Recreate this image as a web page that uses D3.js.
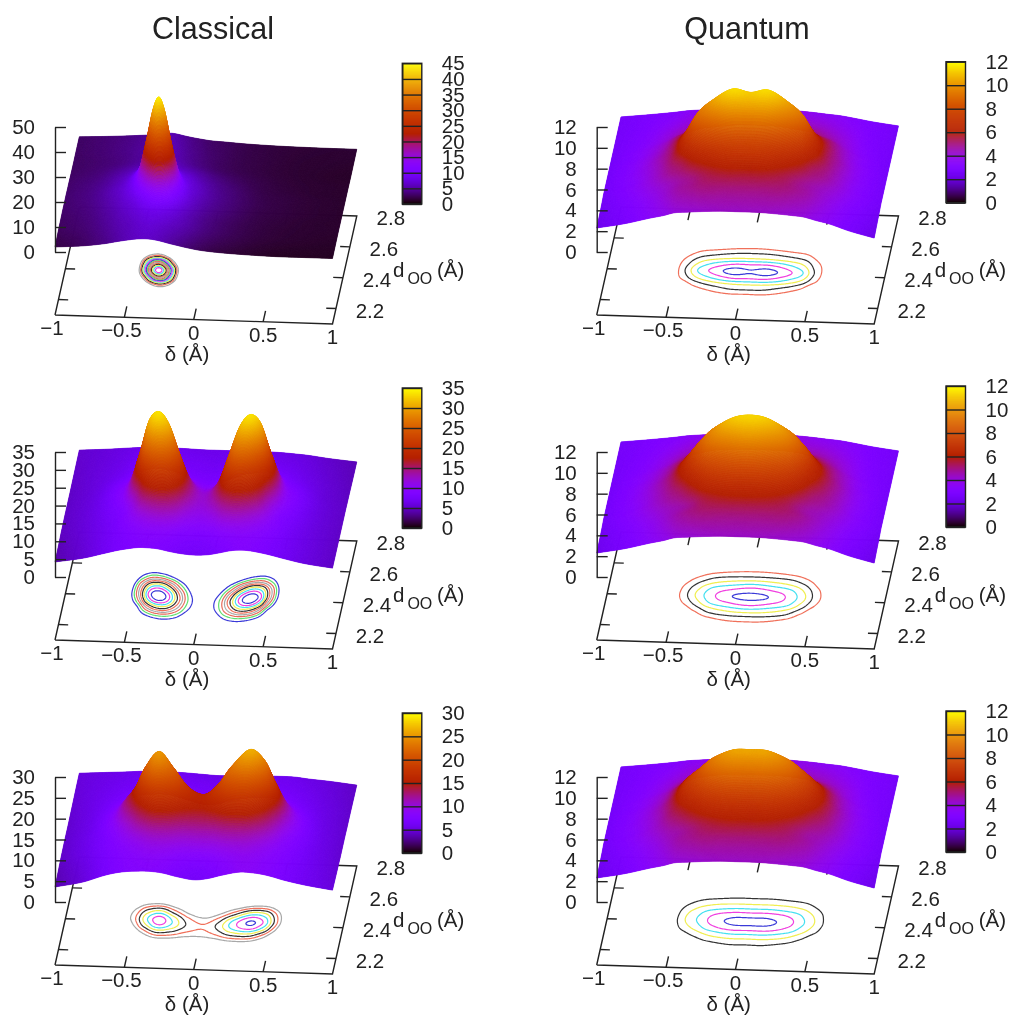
<!DOCTYPE html>
<html>
<head>
<meta charset="utf-8">
<script src="https://cdn.jsdelivr.net/npm/d3@7"></script>
<style>
  html, body { margin: 0; padding: 0; background: #fff; }
  svg { display: block; font-family: "Liberation Sans", Arial, sans-serif; fill: #222; filter: blur(0.35px); }
  .tick line, .domain { stroke: #222; stroke-width: 1.4; }
</style>
</head>
<body>
<script>
// heights on a coarse grid, rows go with dOO, columns with delta
var classical1X = [-1,-.8,-.65,-.55,-.48,-.42,-.37,-.33,-.29,-.24,-.18,-.12,-.05,.05,.2,.4,.6,.8,1];
var classical1Y = [2.1,2.2,2.27,2.32,2.36,2.41,2.46,2.5,2.55,2.62,2.7,2.8];
var classical1Z = [
  [2,2.8,3.9,5,5.7,6.2,6.4,6.4,6.2,5.7,4.9,4.2,3.4,2.5,1.8,1.3,1,1,1],
  [2.7,3.4,4.6,5.6,6.2,6.8,7.2,7.4,7.2,6.8,6.2,5.6,4.8,3.7,2.7,1.9,1.5,1.3,1.2],
  [2.9,3.7,5,6.2,7,8,9,9.6,9.6,8.9,7.5,6.3,5.2,4,2.9,2,1.6,1.4,1.3],
  [3.1,3.9,5.4,6.8,8,10.6,14,16.7,17.3,14.8,10,7.4,5.8,4.4,3.2,2.1,1.7,1.4,1.3],
  [3.1,4.1,5.7,7.4,9.9,16.4,25.6,31.3,30.9,22.7,12.4,8.2,6.2,4.7,3.4,2.2,1.8,1.5,1.3],
  [3.2,4.2,6,8,12.5,25.8,39,44,39,25.8,12.6,8.2,6.5,4.9,3.5,2.3,1.8,1.5,1.3],
  [3.1,4.1,5.7,7.8,12.4,22.7,31,31.3,25.6,16.3,9.6,7.5,6.2,4.7,3.4,2.2,1.8,1.5,1.3],
  [3.1,3.9,5.4,7,9.9,14.6,17.2,16.6,13.9,10.3,7.8,6.8,5.6,4.4,3.2,2.1,1.7,1.4,1.3],
  [2.9,3.6,4.8,5.8,6.8,8,8.6,8.6,8,7,6.2,5.6,4.8,3.8,2.8,2,1.6,1.4,1.3],
  [2.8,3.3,3.9,4.6,5,5.7,6.1,6.3,6,5.5,4.8,4.2,3.6,2.9,2.3,1.8,1.5,1.3,1.2],
  [2.9,3.4,4,4.5,4.9,5.4,5.8,5.9,5.6,5.1,4.4,3.9,3.3,2.8,2.2,1.8,1.5,1.4,1.3],
  [2.9,3.4,3.9,4.3,4.6,5,5.4,5.5,5.2,4.6,4,3.5,3,2.7,2.2,1.8,1.6,1.5,1.5]
];

var classical2X = [-1,-.8,-.65,-.55,-.47,-.4,-.33,-.26,-.18,-.1,0,.1,.18,.26,.33,.4,.47,.55,.65,.8,1];
var classical2Y = [2.1,2.2,2.27,2.33,2.38,2.42,2.47,2.53,2.6,2.7,2.8];
var classical2Z = [
  [4.2,5.5,7,8,8.6,9,9,8.8,8.2,7.7,7.4,7.6,8.2,8.9,9.2,9.1,8.7,8.1,7.2,6,5],
  [4.5,5.8,7.2,8.3,9.1,9.7,10.1,10.2,9.8,9,8.7,9,9.8,10.2,10.2,9.8,9.2,8.3,7.3,6.1,5],
  [4.8,6,7.4,9,10.7,12.9,14.7,15.4,14.2,11.7,10.7,11.7,14.2,15.4,14.7,12.9,10.7,9,7.4,6.1,5],
  [4.9,6.1,7.8,9.5,13.5,20.2,24.3,24.6,20.1,14.4,12,14.4,20.1,24.6,24.3,20.2,13.5,9.5,7.8,6.1,5],
  [5,6.2,8.2,11,18.5,28.1,32.3,30.5,22.9,15.1,12.1,15.1,22.9,30.5,32.3,28.1,18.5,11,8.2,6.2,5],
  [5,6.2,8.5,11.8,21,30.8,33.3,30,21.5,14.1,11.4,14.1,21.5,30,33.3,30.8,21,11.8,8.5,6.2,5],
  [5,6.2,8.6,11.5,20,26.9,27.7,23.4,16.6,11.8,10.1,11.8,16.6,23.4,27.7,26.9,20,11.5,8.6,6.2,5],
  [5,6.1,8,9.8,14.5,17.1,16.4,14,11.1,9.5,8.8,9.5,11.1,14,16.4,17.1,14.5,9.8,8,6,4.9],
  [5.1,6,7.1,8.2,9.1,9.8,9.4,9,8.4,8,7.8,8,8.4,9,9.4,9.8,9,8,7,5.8,4.8],
  [5.2,5.9,6.6,7.3,7.5,7.5,7.4,7.4,7.3,7.2,7,7.2,7.3,7.4,7.4,7.3,7.1,6.8,6.3,5.5,4.6],
  [5.3,5.8,6.3,6.6,6.7,6.7,6.7,6.7,6.6,6.5,6.5,6.5,6.5,6.6,6.6,6.5,6.4,6.2,5.9,5.2,4.5]
];

var classical3X = [-1,-.8,-.65,-.57,-.5,-.43,-.33,-.23,-.12,0,.1,.2,.33,.43,.5,.57,.65,.8,1];
var classical3Y = [2.1,2.2,2.27,2.33,2.38,2.42,2.47,2.53,2.6,2.7,2.8];
var classical3Z = [
  [3.6,5,6.7,7.4,7.8,8,8.1,7.8,7,6.4,6.8,7.7,8.6,8.5,8.2,7.7,7,6,5],
  [4,5.4,7,7.7,8.2,8.6,9,8.8,8.2,7.9,8.2,8.8,9.3,8.9,8.4,7.9,7.2,6,4.8],
  [4.3,5.8,7.4,8.3,9.2,10.2,11.6,11.7,11.1,11.2,11.4,12.1,12,10.7,9.5,8.4,7.5,6,4.7],
  [4.4,5.9,7.8,9.5,11.5,14.4,17.9,17.3,15.5,15,16.2,18.3,18.7,15.6,12.3,9.5,7.9,6,4.6],
  [4.5,6,8.5,11.3,14.5,19.2,23.9,21.6,17.7,16.2,18.5,22.5,25,21.4,16.1,11.3,8.5,6,4.6],
  [4.5,6,8.9,12.4,15.9,21,25,21.4,16.7,14.8,17.3,22,26.2,23.5,17.9,12.4,8.9,6,4.6],
  [4.5,6,8.7,11.9,14.7,18.3,20.2,16.7,13,11.4,13.3,16.8,21.2,20.3,16.4,11.9,8.7,5.9,4.6],
  [4.6,5.9,7.8,9.4,10.8,12.1,12.4,10.8,9.3,8.6,9.3,10.7,12.8,12.9,11.5,9.3,7.7,5.7,4.5],
  [4.7,5.8,6.8,7.4,8,8.1,8.2,7.8,7.4,7,7.3,7.7,8.1,8.1,7.8,7.3,6.6,5.5,4.5],
  [4.9,5.6,6.1,6.3,6.6,6.7,6.7,6.6,6.4,6.2,6.3,6.4,6.5,6.5,6.4,6.2,5.9,5.2,4.4],
  [5,5.4,5.7,5.9,6,6,6,5.9,5.7,5.5,5.6,5.7,5.8,5.8,5.8,5.7,5.4,5,4.3]
];

var quantumX = [-1,-.8,-.62,-.52,-.44,-.35,-.25,-.1,.03,.16,.31,.41,.49,.58,.68,.82,1];
var quantumY = [2.1,2.2,2.26,2.295,2.325,2.365,2.41,2.455,2.495,2.525,2.56,2.62,2.7,2.8];
var quantum1Z = [
  [2.3,2.8,3.4,3.7,4,4.1,4.2,4.3,4.3,4.3,4.2,4.1,4,3.7,3.4,2.8,2.2],
  [2.4,3,3.7,4.2,4.6,4.8,5,5,5,5,5,4.8,4.6,4.2,3.7,3,2.4],
  [2.5,3.2,4,4.4,4.7,5,5.5,5.9,5.9,5.9,5.5,5,4.7,4.4,4,3.2,2.5],
  [2.6,3.3,4.2,4.8,5.1,5.7,6.3,7,7.1,7,6.3,5.7,5.1,4.8,4.2,3.3,2.6],
  [2.6,3.3,4.3,5,5.5,6.5,7.3,7.9,8,7.9,7.3,6.5,5.5,5,4.3,3.3,2.6],
  [2.6,3.4,4.4,5.3,6.5,8,9,10,10,10,9,8,6.5,5.3,4.4,3.4,2.6],
  [2.6,3.4,4.5,5.4,7,9,10.2,11.4,11.1,11.4,10.2,9,7,5.4,4.5,3.4,2.6],
  [2.6,3.4,4.4,5.4,6.6,8.1,9.1,10,10,10,9.1,8.1,6.6,5.4,4.4,3.4,2.6],
  [2.6,3.3,4.3,5.2,6,7,7.5,7.9,8,7.9,7.5,7,6,5.2,4.3,3.3,2.6],
  [2.6,3.3,4.2,5,5.5,6.2,6.6,7,7.1,7,6.6,6.2,5.5,5,4.2,3.3,2.6],
  [2.6,3.2,4,4.6,5,5.4,5.6,5.9,6,5.9,5.6,5.4,5,4.6,4,3.2,2.6],
  [2.6,3.1,3.8,4.2,4.5,4.7,4.9,5,5,5,4.9,4.7,4.5,4.2,3.8,3.1,2.6],
  [2.6,3,3.5,3.8,4,4.1,4.2,4.3,4.3,4.3,4.2,4.1,4,3.8,3.5,3,2.6],
  [2.6,2.9,3.2,3.4,3.5,3.6,3.7,3.8,3.8,3.8,3.7,3.6,3.5,3.4,3.2,2.9,2.6]
];
var quantum2Z = [
  [2.3,2.8,3.4,3.7,4,4.1,4.2,4.3,4.3,4.3,4.2,4.1,4,3.7,3.4,2.8,2.2],
  [2.4,3,3.7,4.2,4.6,4.9,5.1,5.1,5.1,5.1,5.1,4.9,4.6,4.2,3.7,3,2.4],
  [2.5,3.2,4,4.4,4.6,5,5.7,6.2,6.3,6.2,5.7,5,4.6,4.4,4,3.2,2.5],
  [2.6,3.3,4.2,4.7,5,5.7,6.8,7.4,7.5,7.4,6.8,5.7,5,4.7,4.2,3.3,2.6],
  [2.6,3.3,4.3,4.9,5.4,6.5,7.7,8.5,8.8,8.5,7.7,6.5,5.4,4.9,4.3,3.3,2.6],
  [2.6,3.4,4.4,5.2,6.2,7.6,9.1,10,10.4,10,9.1,7.6,6.2,5.2,4.4,3.4,2.6],
  [2.6,3.4,4.5,5.4,6.7,8.3,9.7,11,11.3,11,9.7,8.3,6.7,5.4,4.5,3.4,2.6],
  [2.6,3.4,4.4,5.3,6.5,7.9,9.2,10,10.4,10,9.2,7.9,6.5,5.3,4.4,3.4,2.6],
  [2.6,3.3,4.3,5.1,5.9,7,7.9,8.5,8.8,8.5,7.9,7,5.9,5.1,4.3,3.3,2.6],
  [2.6,3.3,4.2,4.9,5.5,6.2,7,7.4,7.5,7.4,7,6.2,5.5,4.9,4.2,3.3,2.6],
  [2.6,3.2,4,4.6,5.1,5.5,5.9,6.2,6.3,6.2,5.9,5.5,5.1,4.6,4,3.2,2.6],
  [2.6,3.1,3.8,4.2,4.5,4.7,4.9,5,5,5,4.9,4.7,4.5,4.2,3.8,3.1,2.6],
  [2.6,3,3.5,3.8,4,4.1,4.2,4.3,4.3,4.3,4.2,4.1,4,3.8,3.5,3,2.6],
  [2.6,2.9,3.2,3.4,3.5,3.6,3.7,3.8,3.8,3.8,3.7,3.6,3.5,3.4,3.2,2.9,2.6]
];
var quantum3Z = [
  [2.3,2.8,3.4,3.7,4,4.1,4.2,4.3,4.3,4.3,4.2,4.1,4,3.7,3.4,2.8,2.2],
  [2.4,3,3.7,4.2,4.6,4.8,5,5,5,5,5,4.8,4.6,4.2,3.7,3,2.4],
  [2.5,3.2,4,4.5,4.7,5.1,5.6,6,6,6,5.6,5.1,4.7,4.5,4,3.2,2.5],
  [2.6,3.3,4.2,4.8,5.2,5.8,6.5,6.9,6.9,6.9,6.5,5.8,5.2,4.8,4.2,3.3,2.6],
  [2.6,3.3,4.3,5.1,5.7,6.5,7.3,7.9,7.9,7.9,7.3,6.5,5.7,5.1,4.3,3.3,2.6],
  [2.6,3.4,4.4,5.4,6.5,7.5,8.6,9.4,9.4,9.4,8.6,7.5,6.5,5.4,4.4,3.4,2.6],
  [2.6,3.4,4.5,5.6,7,8.1,9.3,10.3,10.4,10.3,9.3,8.1,7,5.6,4.5,3.4,2.6],
  [2.6,3.4,4.4,5.5,6.8,7.8,8.8,9.4,9.4,9.4,8.8,7.8,6.8,5.5,4.4,3.4,2.6],
  [2.6,3.3,4.3,5.3,6.2,7,7.5,7.9,7.9,7.9,7.5,7,6.2,5.3,4.3,3.3,2.6],
  [2.6,3.3,4.2,5,5.7,6.3,6.7,6.9,6.9,6.9,6.7,6.3,5.7,5,4.2,3.3,2.6],
  [2.6,3.2,4,4.7,5.2,5.6,5.8,6,6,6,5.8,5.6,5.2,4.7,4,3.2,2.6],
  [2.6,3.1,3.8,4.2,4.5,4.7,4.9,5,5,5,4.9,4.7,4.5,4.2,3.8,3.1,2.6],
  [2.6,3,3.5,3.8,4,4.1,4.2,4.3,4.3,4.3,4.2,4.1,4,3.8,3.5,3,2.6],
  [2.6,2.9,3.2,3.4,3.5,3.6,3.7,3.8,3.8,3.8,3.7,3.6,3.5,3.4,3.2,2.9,2.6]
];

// axis ticks
var deltaTicks = [-1,-0.5,0,0.5,1];
var dooTicks = [2.2,2.4,2.6,2.8];
var zTicks1 = [0,10,20,30,40,50];
var zTicks2 = [0,5,10,15,20,25,30,35];
var zTicks3 = [0,5,10,15,20,25,30];
var zTicksQ = [0,2,4,6,8,10,12];
var cbTicks1 = [0,5,10,15,20,25,30,35,40,45];

// contour levels and their line colours, low to high
var gray = "#a8a8a8", orange = "#f0705a", black = "#333", yellow = "#f0ee50", cyan = "#45e0f0",
    magenta = "#f040e0", blue = "#3a3ad8", green = "#60e070", red = "#e86a5a";
var levels1 = [14,16,18,20,22,24,26,28,30,32,34,36,38,40,42];
var levelColors1 = [gray,orange,black,yellow,cyan,magenta,blue,green,red,gray,orange,black,yellow,cyan,magenta];
var levels2 = [14,16,18,20,22,24,26,28,30,32];
var levelColors2 = [blue,green,red,gray,orange,black,yellow,cyan,magenta,blue];
var levels3 = [14,16,18,20,22,24,26];
var levelColors3 = [gray,orange,black,yellow,cyan,magenta,blue];
var levelsQ = [6,7,8,9,10,11];
var levelColorsQ = [orange,black,yellow,cyan,magenta,blue];
var levelsQ3 = [6,7,8,9,10];
var levelColorsQ3 = [black,yellow,cyan,magenta,blue];

var panels = [
  {col: 0, row: 0, xs: classical1X, ys: classical1Y, z: classical1Z, zTop: 50, zTicks: zTicks1, cbTop: 45, cbTicks: cbTicks1, levels: levels1, colors: levelColors1},
  {col: 0, row: 1, xs: classical2X, ys: classical2Y, z: classical2Z, zTop: 35, zTicks: zTicks2, cbTop: 35, cbTicks: zTicks2, levels: levels2, colors: levelColors2},
  {col: 0, row: 2, xs: classical3X, ys: classical3Y, z: classical3Z, zTop: 30, zTicks: zTicks3, cbTop: 30, cbTicks: zTicks3, levels: levels3, colors: levelColors3},
  {col: 1, row: 0, xs: quantumX, ys: quantumY, z: quantum1Z, zTop: 12, zTicks: zTicksQ, cbTop: 12, cbTicks: zTicksQ, levels: levelsQ, colors: levelColorsQ},
  {col: 1, row: 1, xs: quantumX, ys: quantumY, z: quantum2Z, zTop: 12, zTicks: zTicksQ, cbTop: 12, cbTicks: zTicksQ, levels: levelsQ, colors: levelColorsQ},
  {col: 1, row: 2, xs: quantumX, ys: quantumY, z: quantum3Z, zTop: 12, zTicks: zTicksQ, cbTop: 12, cbTicks: zTicksQ, levels: levelsQ3, colors: levelColorsQ3}
];

// layout
var colX = [55, 596.7];
var rowY = [315, 640, 965];
var cbX = [402.3, 946];
var cbY = [[63.3, 204], [388, 528], [713, 853]];
var cbYRight = [[61.7, 202.7], [386, 527], [711, 852]];
var titles = [{text: "Classical", x: 213}, {text: "Quantum", x: 747}];

// gnuplot's default pm3d palette (rgbformulae 7,5,15)
function palette(g) {
  g = Math.max(0, Math.min(1, g));
  return d3.rgb(255 * Math.sqrt(g), 255 * g * g * g, 255 * Math.max(0, Math.sin(2 * Math.PI * g))).formatHex();
}
var paletteTable = d3.range(1025).map(function(i) { return palette(i / 1024); });

// same idea as "set pm3d interpolate": smooth cubic between the grid values
function hermite(xs, vs, x) {
  var n = xs.length;
  var i = Math.max(0, Math.min(n - 2, d3.bisectRight(xs, x) - 1));
  function slope(k) {
    var a = Math.max(0, k - 1), b = Math.min(n - 1, k + 1);
    return (vs[b] - vs[a]) / (xs[b] - xs[a]);
  }
  var h = xs[i + 1] - xs[i], s = (x - xs[i]) / h;
  var s2 = s * s, s3 = s2 * s;
  return (2 * s3 - 3 * s2 + 1) * vs[i] + (s3 - 2 * s2 + s) * h * slope(i) +
         (-2 * s3 + 3 * s2) * vs[i + 1] + (s3 - s2) * h * slope(i + 1);
}

function resample(p, nx, ny) {
  var gx = d3.scaleLinear().domain([0, nx - 1]).range([-1, 1]);
  var gy = d3.scaleLinear().domain([0, ny - 1]).range([2.1, 2.8]);
  var out = new Array(nx * ny);
  d3.range(ny).forEach(function(j) {
    var y = gy(j);
    var rowVals = p.xs.map(function(_, i) {
      return hermite(p.ys, p.z.map(function(r) { return r[i]; }), y);
    });
    d3.range(nx).forEach(function(i) {
      out[j * nx + i] = hermite(p.xs, rowVals, gx(i));
    });
  });
  return {values: out, gx: gx, gy: gy, nx: nx, ny: ny};
}

var svg = d3.select("body").append("svg").attr("width", 1011).attr("height", 1016);

svg.selectAll(".title").data(titles).join("text")
  .attr("class", "title")
  .attr("x", function(d) { return d.x; })
  .attr("y", 39)
  .attr("text-anchor", "middle")
  .style("font-size", "30.5px")
  .text(function(d) { return d.text; });

var xScale = d3.scaleLinear().domain([-1, 1]).range([0, 277.5]);
var tScale = d3.scaleLinear().domain([2.1, 2.8]).range([0, 1]);

panels.forEach(drawPanel);

function drawPanel(p) {
  var x0 = colX[p.col], y0 = rowY[p.row];
  var zScale = d3.scaleLinear().domain([0, p.zTop]).range([-63, -188]);

  function project(x, y, z) {
    var sx = xScale(x), t = tScale(y);
    return [x0 + sx + 24.3 * t, y0 + 9 * sx / 277.5 - 108 * t + (z === undefined ? 0 : zScale(z))];
  }

  var g = svg.append("g").style("font-size", "20.5px");

  // base plane
  var corners = [[-1, 2.1], [1, 2.1], [1, 2.8], [-1, 2.8], [-1, 2.1]].map(function(c) { return project(c[0], c[1]); });
  g.append("path")
    .attr("d", d3.line()(corners))
    .attr("fill", "none").attr("stroke", "#222").attr("stroke-width", 1.4);

  var tickLen = 0.07;
  var stubs = [];
  deltaTicks.slice(1, -1).forEach(function(d) {
    stubs.push([project(d, 2.1), project(d, 2.1 + tickLen)]);
    stubs.push([project(d, 2.8), project(d, 2.8 - tickLen)]);
  });
  dooTicks.slice(0, -1).forEach(function(d) {
    stubs.push([project(-1, d), project(-1 + tickLen, d)]);
    stubs.push([project(1, d), project(1 - tickLen, d)]);
  });
  g.selectAll(".stub").data(stubs).join("path")
    .attr("class", "stub")
    .attr("d", function(d) { return d3.line()(d); })
    .attr("stroke", "#222").attr("stroke-width", 1.4);

  // contours projected on the base
  var fine = resample(p, 241, 141);
  var contours = d3.contours().size([fine.nx, fine.ny]).thresholds(p.levels)(fine.values);
  var toBase = d3.geoTransform({point: function(cx, cy) {
    var q = project(fine.gx(cx - 0.5), fine.gy(cy - 0.5));
    this.stream.point(q[0], q[1]);
  }});
  g.selectAll(".contour").data(contours).join("path")
    .attr("class", "contour")
    .attr("d", d3.geoPath(toBase))
    .attr("fill", "none")
    .attr("stroke", function(d, i) { return p.colors[i]; })
    .attr("stroke-width", 1.2);

  // surface, painted from the back edge to the front on a canvas, too many cells for svg paths
  var grid = resample(p, 361, 161);
  var canvas = document.createElement("canvas");
  canvas.width = 1011;
  canvas.height = 1016;
  var ctx = canvas.getContext("2d");
  ctx.lineWidth = 0.6;
  var v = grid.values, n = grid.nx;
  for (var j = grid.ny - 2; j >= 0; j--) {
    for (var i = 0; i < n - 1; i++) {
      var a = v[j * n + i], b = v[j * n + i + 1], c = v[(j + 1) * n + i + 1], e = v[(j + 1) * n + i];
      var p1 = project(grid.gx(i), grid.gy(j), a), p2 = project(grid.gx(i + 1), grid.gy(j), b),
          p3 = project(grid.gx(i + 1), grid.gy(j + 1), c), p4 = project(grid.gx(i), grid.gy(j + 1), e);
      var col = paletteTable[Math.round(Math.max(0, Math.min(1, (a + b + c + e) / 4 / p.cbTop)) * 1024)];
      ctx.fillStyle = col;
      ctx.strokeStyle = col;
      ctx.beginPath();
      ctx.moveTo(p1[0], p1[1]);
      ctx.lineTo(p2[0], p2[1]);
      ctx.lineTo(p3[0], p3[1]);
      ctx.lineTo(p4[0], p4[1]);
      ctx.closePath();
      ctx.fill();
      ctx.stroke();
    }
  }
  g.append("image")
    .attr("width", 1011).attr("height", 1016)
    .attr("href", canvas.toDataURL());

  // z axis, the labels go on the left of the line
  var zAxis = d3.axisRight(zScale).tickValues(p.zTicks).tickSizeInner(11).tickSizeOuter(0);
  var zg = g.append("g").attr("transform", "translate(" + x0 + "," + y0 + ")").call(zAxis);
  zg.selectAll("text").attr("x", -20).attr("text-anchor", "end").attr("fill", "#222").style("font-size", "20.5px").style("font-family", "inherit");

  // delta labels
  g.selectAll(".dlabel").data(deltaTicks).join("text")
    .attr("class", "dlabel")
    .attr("x", function(d) { return project(d, 2.1)[0] + (d < 0 ? -3 : 0); })
    .attr("y", function(d) { return project(d, 2.1)[1] + 20; })
    .attr("text-anchor", "middle")
    .text(function(d) { return d3.format("")(d).replace("-", "\u2212"); });

  g.append("text")
    .attr("x", x0 + 132).attr("y", y0 + 46)
    .attr("text-anchor", "middle")
    .text("\u03b4 (\u00c5)");

  // dOO labels
  g.selectAll(".ylabel").data(dooTicks).join("text")
    .attr("class", "ylabel")
    .attr("x", function(d) { return project(1, d)[0] + 34; })
    .attr("y", function(d) { return project(1, d)[1] + 9; })
    .attr("text-anchor", "middle")
    .text(function(d) { return d3.format(".1f")(d); });

  var dlab = g.append("text").attr("x", x0 + 338).attr("y", y0 - 38);
  dlab.append("tspan").text("d");
  dlab.append("tspan").attr("dy", 7).attr("dx", 3).style("font-size", "16px").text("OO");
  dlab.append("tspan").attr("dy", -7).attr("x", x0 + 382).text("(\u00c5)");

  // colour bar
  var cb = (p.col ? cbYRight : cbY)[p.row];
  var cbLeft = cbX[p.col], cbW = 19.5;
  var cbScale = d3.scaleLinear().domain([0, p.cbTop]).range([cb[1], cb[0]]);
  var cbSteps = d3.range(0, p.cbTop, p.cbTop / 140);
  g.selectAll(".band").data(cbSteps).join("rect")
    .attr("class", "band")
    .attr("x", cbLeft)
    .attr("width", cbW)
    .attr("y", function(d) { return cbScale(d + p.cbTop / 140); })
    .attr("height", (cb[1] - cb[0]) / 140 + 0.5)
    .attr("fill", function(d) { return palette(d / p.cbTop); });
  g.append("rect")
    .attr("x", cbLeft).attr("y", cb[0]).attr("width", cbW).attr("height", cb[1] - cb[0])
    .attr("fill", "none").attr("stroke", "#222").attr("stroke-width", 1.4);
  var cbAxis = d3.axisRight(cbScale).tickValues(p.cbTicks).tickSizeInner(cbW).tickSizeOuter(0).tickPadding(20);
  var cbg = g.append("g").attr("transform", "translate(" + cbLeft + ",0)").call(cbAxis);
  cbg.selectAll("text").attr("fill", "#222").style("font-size", "20.5px").style("font-family", "inherit");
}
</script>
</body>
</html>
